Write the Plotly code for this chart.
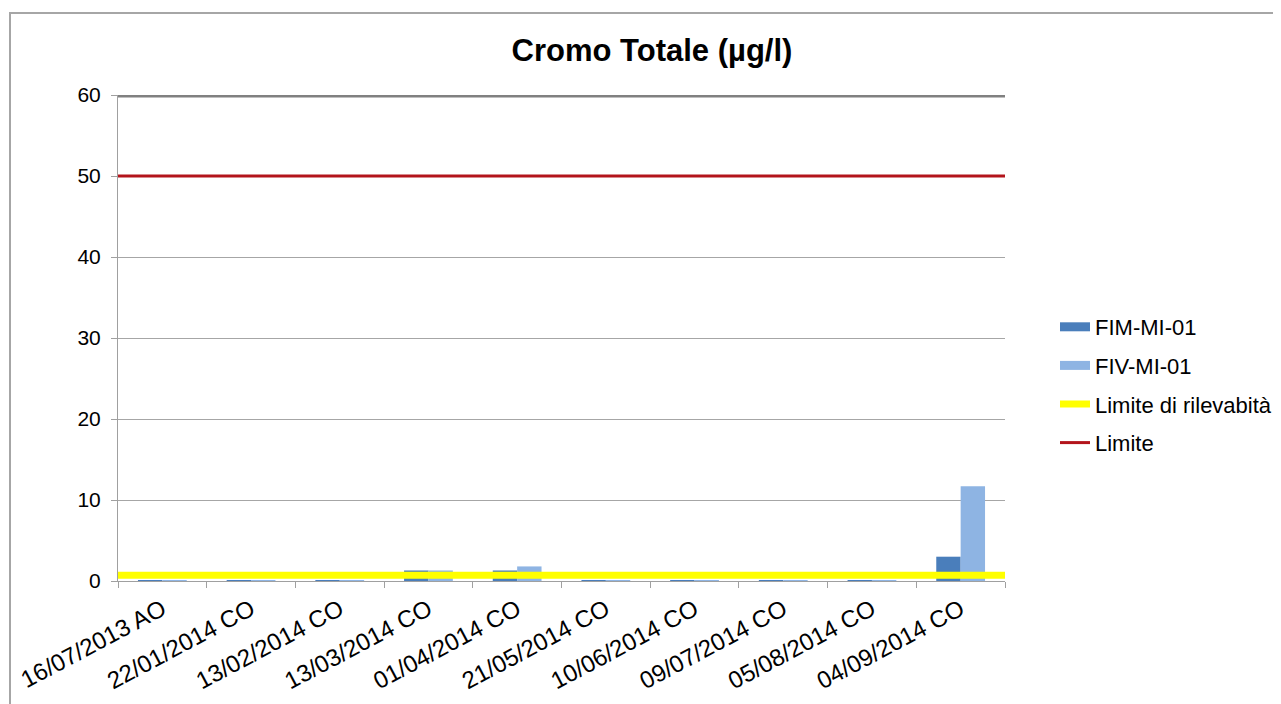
import plotly.graph_objects as go

categories = ["16/07/2013 AO", "22/01/2014 CO", "13/02/2014 CO", "13/03/2014 CO",
              "01/04/2014 CO", "21/05/2014 CO", "10/06/2014 CO", "09/07/2014 CO",
              "05/08/2014 CO", "04/09/2014 CO"]
fim_mi_01 = [0.1, 0.1, 0.1, 1.3, 1.3, 0.1, 0.1, 0.1, 0.1, 3.0]
fiv_mi_01 = [0.1, 0.1, 0.1, 1.3, 1.8, 0.1, 0.1, 0.1, 0.1, 11.7]
limite_rilevabilita = 0.7
limite = 50
y_ticks = [0, 10, 20, 30, 40, 50, 60]

FONT = "Liberation Sans, Arial, sans-serif"
C_FIM = "#4a7ebb"
C_FIV = "#8eb4e3"
C_YEL = "#ffff00"
C_RED = "#b3141b"

fig = go.Figure()
fig.add_trace(go.Bar(x=categories, y=fim_mi_01, name="FIM-MI-01", marker_color=C_FIM,
                     marker_line_width=0, showlegend=False))
fig.add_trace(go.Bar(x=categories, y=fiv_mi_01, name="FIV-MI-01", marker_color=C_FIV,
                     marker_line_width=0, showlegend=False))
# legend entries for bars
fig.add_trace(go.Scatter(x=[None], y=[None], mode="lines", name="FIM-MI-01",
                         line=dict(color=C_FIM, width=9), legendgroup="a"))
fig.add_trace(go.Scatter(x=[None], y=[None], mode="lines", name="FIV-MI-01",
                         line=dict(color=C_FIV, width=9), legendgroup="b"))
# horizontal limit lines across the full plot width (overlay numeric axis)
fig.add_trace(go.Scatter(x=[0, 1], y=[limite_rilevabilita] * 2, mode="lines",
                         name="Limite di rilevabità", xaxis="x2",
                         line=dict(color=C_YEL, width=7), legendgroup="c"))
fig.add_trace(go.Scatter(x=[0, 1], y=[limite] * 2, mode="lines", name="Limite",
                         xaxis="x2", line=dict(color=C_RED, width=3), legendgroup="d"))

# page has an 8px body margin; figure coords = page coords - 8
OFF = 8
L, R, T, B = 118 - OFF, 1005 - OFF, 95 - OFF, 581 - OFF
pw = R - L
ph = B - T

fig.update_layout(
    width=1281, height=704,
    margin=dict(l=L, r=1281 - R, t=T, b=704 - B, autoexpand=False),
    paper_bgcolor="white", plot_bgcolor="white",
    font=dict(family=FONT, size=20, color="#000000"),
    title=dict(text="<b>Cromo Totale (µg/l)</b>", x=(652 - OFF) / 1281, xanchor="center",
               y=1 - (50 - OFF) / 704, yanchor="middle", font=dict(size=31, family=FONT)),
    barmode="group", bargap=0.45, bargroupgap=0,
    xaxis=dict(type="category", tickangle=-28, tickson="boundaries", ticks="outside",
               ticklen=6, tickcolor="#a0a0a0", showline=True, linecolor="#a0a0a0",
               linewidth=1, showgrid=False, tickfont=dict(size=24), ticklabelstandoff=4,
               automargin=False),
    xaxis2=dict(overlaying="x", range=[0, 1], visible=False, fixedrange=True),
    yaxis=dict(range=[0, 60], tickvals=y_ticks, ticks="outside", ticklen=6,
               tickcolor="#a0a0a0", showline=True, linecolor="#a0a0a0", linewidth=1,
               showgrid=True, gridcolor="#a6a6a6", gridwidth=1, zeroline=False,
               tickfont=dict(size=21), ticklabelstandoff=6, automargin=False),
    legend=dict(x=(1055 - 118) / pw, xanchor="left", y=(581 - 306) / ph, yanchor="top",
                tracegroupgap=7, font=dict(size=22), bgcolor="rgba(0,0,0,0)"),
    shapes=[
        dict(type="line", xref="paper", yref="y", x0=0, x1=1, y0=60, y1=60,
             line=dict(color="#808080", width=5)),
        dict(type="rect", xref="paper", yref="paper",
             x0=(10 - 118) / pw, x1=(1300 - 118) / pw,
             y0=(581 - 720) / ph, y1=(581 - 13) / ph,
             line=dict(color="#a6a6a6", width=2), layer="below"),
    ],
)

fig.write_html("out.html")
